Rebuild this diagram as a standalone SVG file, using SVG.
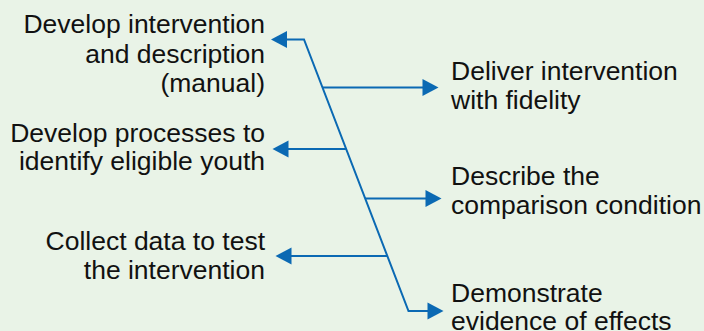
<svg xmlns="http://www.w3.org/2000/svg" width="704" height="331" viewBox="0 0 704 331">
<style>
.t{font-family:"Liberation Sans",Arial,sans-serif;font-size:26.5px;fill:#111}
.l{text-anchor:end}
.c{stroke:#0B69B3;stroke-width:2;fill:none}
.h{fill:#0B69B3}
</style>
<rect width="704" height="331" fill="#E9F3E7"/>
<g id="connectors">
<polyline class="c" points="285,39.5 304,39.5 408.5,311 430,311"/>
<line class="c" x1="322.5" y1="87.5" x2="425" y2="87.5"/>
<line class="c" x1="346.5" y1="149" x2="287" y2="149"/>
<line class="c" x1="365" y1="198.5" x2="428" y2="198.5"/>
<line class="c" x1="387.5" y1="256" x2="290" y2="256"/>
<polygon class="h" points="271,39.5 287,31 287,48"/>
<polygon class="h" points="438.5,87.5 422.5,79 422.5,96"/>
<polygon class="h" points="272.5,149 288.5,140.5 288.5,157.5"/>
<polygon class="h" points="441.5,198.5 425.5,190 425.5,207"/>
<polygon class="h" points="275.5,256 291.5,247.5 291.5,264.5"/>
<polygon class="h" points="443.5,311 427.5,302.5 427.5,319.5"/>
</g>
<g id="n1"><text class="t l" x="265" y="33">Develop intervention</text><text class="t l" x="265" y="62.5">and description</text><text class="t l" x="265" y="91.5">(manual)</text></g>
<g id="n2"><text class="t l" x="265" y="141.5">Develop processes to</text><text class="t l" x="265" y="170">identify eligible youth</text></g>
<g id="n3"><text class="t l" x="265" y="250">Collect data to test</text><text class="t l" x="265" y="278.5">the intervention</text></g>
<g id="n4"><text class="t" x="451" y="79.5">Deliver intervention</text><text class="t" x="451" y="108.5">with fidelity</text></g>
<g id="n5"><text class="t" x="451" y="185">Describe the</text><text class="t" x="451" y="213.5">comparison condition</text></g>
<g id="n6"><text class="t" x="451" y="301.5">Demonstrate</text><text class="t" x="451" y="330">evidence of effects</text></g>
</svg>
